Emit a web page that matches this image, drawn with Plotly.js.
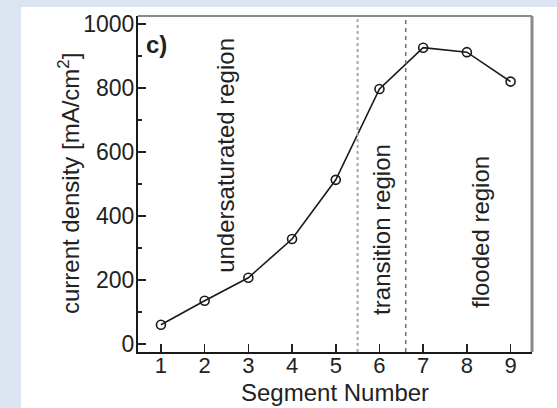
<!DOCTYPE html>
<html>
<head>
<meta charset="utf-8">
<script src="https://cdn.plot.ly/plotly-3.0.1.min.js"></script>
<style>
  html, body { margin: 0; padding: 0; width: 557px; height: 408px; background: #dbe5f1; overflow: hidden; }
  #chart { position: absolute; left: 21px; top: 7px; width: 536px; height: 401px; background: #fff; }
</style>
</head>
<body>
<div id="chart"></div>
<script>
const segments = [1, 2, 3, 4, 5, 6, 7, 8, 9];
const currentDensity = [60, 135, 207, 328, 513, 797, 926, 912, 820];
const regionBoundaries = [5.5, 6.6];
const regionLabels = ["undersaturated region", "transition region", "flooded region"];
const xTicks = [1, 2, 3, 4, 5, 6, 7, 8, 9];
const yTicks = [0, 200, 400, 600, 800, 1000];
const xTitle = 'Segment Number';
const yTitle = 'current density [mA/cm<sup>2</sup>]';

const FONT = '"Liberation Sans", Arial, Helvetica, sans-serif';
const TXT = '#222';

const trace = {
  x: segments,
  y: currentDensity,
  mode: 'lines+markers',
  line: { color: '#1a1a1a', width: 1.6 },
  marker: { symbol: 'circle-open', size: 9, color: '#1a1a1a', line: { width: 1.6, color: '#1a1a1a' } },
  showlegend: false,
  hoverinfo: 'skip'
};

const layout = {
  width: 536,
  height: 401,
  margin: { l: 117, r: 25, t: 9, b: 56 },
  paper_bgcolor: '#ffffff',
  plot_bgcolor: '#ffffff',
  font: { family: FONT, color: TXT, size: 22 },
  xaxis: {
    range: [0.475, 9.49],
    tickmode: 'array',
    tickvals: xTicks,
    ticktext: xTicks.map(String),
    ticks: 'inside',
    ticklen: 8,
    tickwidth: 1.5,
    tickcolor: '#222',
    showline: true,
    linecolor: '#1a1a1a',
    linewidth: 2,
    showgrid: false,
    zeroline: false,
    ticklabelstandoff: -7,
    tickfont: { size: 22, family: FONT, color: TXT }
  },
  yaxis: {
    range: [-25, 1025],
    tickmode: 'array',
    tickvals: yTicks,
    ticktext: yTicks.map(String),
    ticks: 'inside',
    ticklen: 8,
    tickwidth: 1.5,
    tickcolor: '#222',
    minor: { tickmode: 'array', tickvals: [100, 300, 500, 700, 900], ticks: 'inside', ticklen: 4, tickwidth: 1.5, tickcolor: '#222' },
    showline: true,
    linecolor: '#1a1a1a',
    linewidth: 2,
    showgrid: false,
    zeroline: false,
    ticklabelstandoff: -3,
    tickfont: { size: 23, family: FONT, color: TXT }
  },
  shapes: [
    { type: 'line', xref: 'x', yref: 'paper', x0: regionBoundaries[0], x1: regionBoundaries[0], y0: 0, y1: 1,
      line: { color: '#a8a8a8', width: 2, dash: 'dot' } },
    { type: 'line', xref: 'x', yref: 'paper', x0: regionBoundaries[1], x1: regionBoundaries[1], y0: 0, y1: 1,
      line: { color: '#707070', width: 1.5, dash: '4px,4px' } },
    { type: 'line', xref: 'paper', yref: 'paper', x0: 0, x1: 1, y0: 1, y1: 1,
      line: { color: '#8a8a8a', width: 2 } },
    { type: 'line', xref: 'paper', yref: 'paper', x0: 1, x1: 1, y0: 0, y1: 1,
      line: { color: '#8a8a8a', width: 3 } }
  ],
  annotations: [
    { text: xTitle, xref: 'paper', yref: 'paper', x: 0.5, y: -0.122, xanchor: 'center', yanchor: 'middle',
      showarrow: false, font: { size: 24, family: FONT, color: TXT } },
    { text: yTitle, xref: 'paper', yref: 'paper', x: -0.175, y: 0.5, textangle: -90, xanchor: 'center', yanchor: 'middle',
      showarrow: false, font: { size: 24, family: FONT, color: TXT } },
    { text: '<b>c)</b>', xref: 'x', yref: 'y', x: 0.62, y: 935, xanchor: 'left', yanchor: 'middle',
      showarrow: false, font: { size: 24, family: FONT, color: TXT } },
    { text: regionLabels[0], xref: 'x', yref: 'paper', x: 2.47, y: 0.94, textangle: -90,
      xanchor: 'center', yanchor: 'top', showarrow: false, font: { size: 24, family: FONT, color: TXT } },
    { text: regionLabels[1], xref: 'x', yref: 'paper', x: 6.05, y: 0.105, textangle: -90,
      xanchor: 'center', yanchor: 'bottom', showarrow: false, font: { size: 24, family: FONT, color: TXT } },
    { text: regionLabels[2], xref: 'x', yref: 'paper', x: 8.3, y: 0.125, textangle: -90,
      xanchor: 'center', yanchor: 'bottom', showarrow: false, font: { size: 24, family: FONT, color: TXT } }
  ]
};

Plotly.newPlot('chart', [trace], layout, { displayModeBar: false, staticPlot: true });
</script>
</body>
</html>
